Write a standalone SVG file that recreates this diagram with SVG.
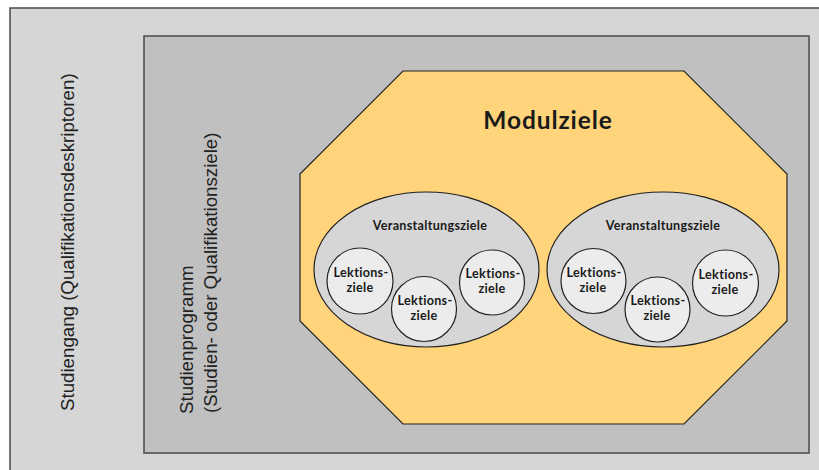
<svg xmlns="http://www.w3.org/2000/svg" width="819" height="470" viewBox="0 0 819 470">
<style>
.box{stroke:#4a4a4a;stroke-width:1.5}
.shape{stroke:#222;stroke-width:1.2}
.ell{fill:#d6d6d6}
.circ{fill:#ececec}
.side{font-family:"Liberation Sans",Arial,sans-serif;font-size:18.7px;fill:#222}
.lbl{font-family:Lato,"Open Sans",sans-serif;font-weight:bold;fill:#1a1a1a;text-anchor:middle;font-variant-ligatures:none}
.s12{font-size:12.6px;letter-spacing:0.3px}
</style>
<rect width="819" height="470" fill="#ffffff"/>
<g id="studiengang">
<rect class="box" x="10" y="8" width="830" height="480" fill="#d6d6d6"/>
<text class="side" transform="translate(74,411) rotate(-90)">Studiengang (Qualifikationsdeskriptoren)</text>
</g>
<g id="studienprogramm">
<rect class="box" x="144" y="36" width="665" height="417" fill="#c0c0c0"/>
<text class="side" transform="translate(193,414) rotate(-90)"><tspan x="0" y="0">Studienprogramm</tspan><tspan x="1" y="24">(Studien- oder Qualifikationsziele)</tspan></text>
</g>
<g id="modulziele">
<polygon class="shape" fill="#ffd47a" points="403,71 684,71 787,174 787,321 684,424 403,424 300,321 300,174"/>
<text class="lbl" x="548" y="129" font-size="24.5" letter-spacing="0.9">Modulziele</text>
</g>
<g id="veranstaltung1">
<ellipse class="shape ell" cx="426.5" cy="269.5" rx="112.5" ry="77.5"/>
<text class="lbl s12" x="430" y="230">Veranstaltungsziele</text>
</g>
<g id="lektion1a">
<circle class="shape circ" cx="360" cy="281" r="33"/>
<text class="lbl s12"><tspan x="361" y="277">Lektions-</tspan><tspan x="360" y="292.4">ziele</tspan></text>
</g>
<g id="lektion1b">
<circle class="shape circ" cx="424" cy="309" r="32.5"/>
<text class="lbl s12"><tspan x="425" y="305">Lektions-</tspan><tspan x="424" y="320.4">ziele</tspan></text>
</g>
<g id="lektion1c">
<circle class="shape circ" cx="492" cy="282.5" r="32.5"/>
<text class="lbl s12"><tspan x="493" y="278">Lektions-</tspan><tspan x="492" y="293.4">ziele</tspan></text>
</g>
<g id="veranstaltung2">
<ellipse class="shape ell" cx="663" cy="269.5" rx="116" ry="77.5"/>
<text class="lbl s12" x="663" y="230">Veranstaltungsziele</text>
</g>
<g id="lektion2a">
<circle class="shape circ" cx="593.5" cy="281" r="32.5"/>
<text class="lbl s12"><tspan x="594" y="277">Lektions-</tspan><tspan x="593" y="292.4">ziele</tspan></text>
</g>
<g id="lektion2b">
<circle class="shape circ" cx="657.5" cy="309.5" r="32.5"/>
<text class="lbl s12"><tspan x="658" y="305">Lektions-</tspan><tspan x="657" y="320.4">ziele</tspan></text>
</g>
<g id="lektion2c">
<circle class="shape circ" cx="725.5" cy="283" r="33"/>
<text class="lbl s12"><tspan x="726" y="279">Lektions-</tspan><tspan x="725" y="294.4">ziele</tspan></text>
</g>
<g id="connectors"></g>
</svg>
